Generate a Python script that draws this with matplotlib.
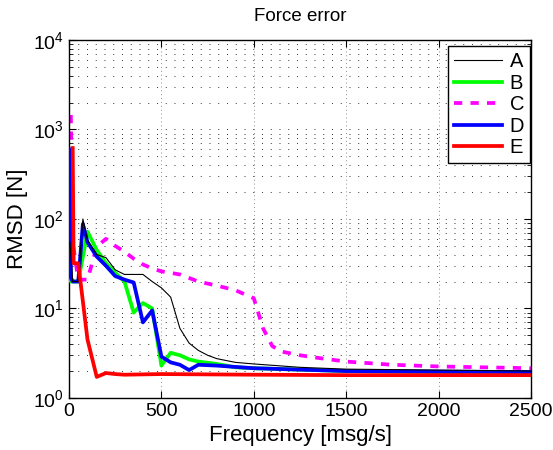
import matplotlib
matplotlib.use("Agg")
import matplotlib.pyplot as plt
from matplotlib.ticker import LogLocator, FixedLocator, NullFormatter

plt.rcParams['font.family'] = ['Liberation Sans', 'DejaVu Sans']
plt.rcParams['mathtext.fontset'] = 'custom'
plt.rcParams['mathtext.rm'] = 'Liberation Sans'
plt.rcParams['mathtext.it'] = 'Liberation Sans'

# ---- data ----
labels = ["A", "B", "C", "D", "E"]

a_x = [5, 20, 50, 75, 100, 150, 200, 250, 300, 350, 400, 450, 500, 550, 600, 650, 700, 750, 800, 900, 1000, 1250, 1500, 2000, 2500]
a_y = [55, 20, 20, 100, 58, 40, 37, 27, 24, 24, 24, 20, 17, 13.4, 6.0, 4.1, 3.4, 3.0, 2.75, 2.5, 2.4, 2.2, 2.1, 2.05, 2.0]

b_x = [5, 10, 50, 100, 150, 200, 250, 300, 350, 400, 450, 500, 550, 600, 650, 700, 800, 900, 1000, 1500, 2000, 2500]
b_y = [45, 20, 20, 72, 45, 32, 25, 20, 9.0, 11.5, 10, 2.3, 3.2, 3.0, 2.7, 2.55, 2.4, 2.2, 2.15, 2.0, 1.95, 1.95]

c_x = [10, 20, 50, 100, 150, 200, 250, 300, 350, 400, 450, 500, 600, 700, 800, 900, 1000, 1050, 1100, 1150, 1250, 1350, 1500, 1750, 2000, 2250, 2500]
c_y = [1450, 55, 21, 21, 49, 60, 50, 43, 36, 31, 28, 26, 24, 20, 18, 16, 13, 6.0, 3.8, 3.3, 3.0, 2.8, 2.55, 2.35, 2.25, 2.2, 2.15]

d_x = [5, 10, 20, 50, 75, 100, 150, 200, 250, 300, 350, 400, 450, 500, 550, 600, 650, 700, 800, 1000, 1500, 2000, 2500]
d_y = [600, 22, 20, 20, 88, 55, 38, 30, 23, 21, 19.5, 7.0, 9.5, 2.9, 2.5, 2.35, 2.05, 2.35, 2.3, 2.15, 2.0, 1.97, 1.95]

e_x = [20, 25, 50, 100, 150, 200, 250, 300, 500, 1000, 1500, 2500]
e_y = [620, 32, 32, 4.5, 1.72, 1.9, 1.85, 1.82, 1.85, 1.82, 1.8, 1.8]

x_ticks = [0, 500, 1000, 1500, 2000, 2500]

fig = plt.figure(figsize=(5.53, 4.5), dpi=100)
ax = fig.add_axes([0.1248, 0.1156, 0.8354, 0.7956])

ax.plot(a_x, a_y, color='black', lw=0.8, label=labels[0], zorder=5)
ax.plot(b_x, b_y, color=(0, 1, 0), lw=2.7, label=labels[1], zorder=3)
ax.plot(c_x, c_y, color=(1, 0, 1), lw=2.7, ls=(0, (2.2, 2.2)), label=labels[2], zorder=2)
ax.plot(d_x, d_y, color=(0, 0, 1), lw=2.7, label=labels[3], zorder=4)
ax.plot(e_x, e_y, color=(1, 0, 0), lw=2.7, label=labels[4], zorder=6)

ax.set_yscale('log')
ax.set_ylim(1, 1e4)
ax.set_xlim(0, 2500)
ax.xaxis.set_major_locator(FixedLocator(x_ticks))
ax.yaxis.set_major_locator(LogLocator(base=10, numticks=10))
ax.yaxis.set_minor_locator(LogLocator(base=10, subs=range(2, 10), numticks=20))
ax.yaxis.set_minor_formatter(NullFormatter())

ax.tick_params(which='both', direction='in', top=True, right=True, labelsize=14, colors='black')
ax.tick_params(which='major', length=5, width=0.8)
ax.tick_params(which='minor', length=3, width=0.6)

ax.grid(True, which='major', axis='x', color='0.55', ls=(0, (1, 3)), lw=0.7)
ax.grid(True, which='both', axis='y', color='0.2', ls=(0, (1, 8)), lw=0.7)

for s in ax.spines.values():
    s.set_linewidth(1.0)
    s.set_color('black')

ax.set_title("Force error", fontsize=13.5, pad=14)
ax.set_xlabel("Frequency [msg/s]", fontsize=16, labelpad=4)
ax.set_ylabel("RMSD [N]", fontsize=16, labelpad=4)

leg = ax.legend(loc='upper right', bbox_to_anchor=(0.998, 0.982), fontsize=14.5,
                frameon=True, fancybox=False, shadow=False, framealpha=1,
                edgecolor='black', handlelength=2.4, labelspacing=0.12,
                borderpad=0.3, handletextpad=0.35, borderaxespad=0)
leg.get_frame().set_linewidth(1.0)

fig.savefig("out.png", dpi=100)
